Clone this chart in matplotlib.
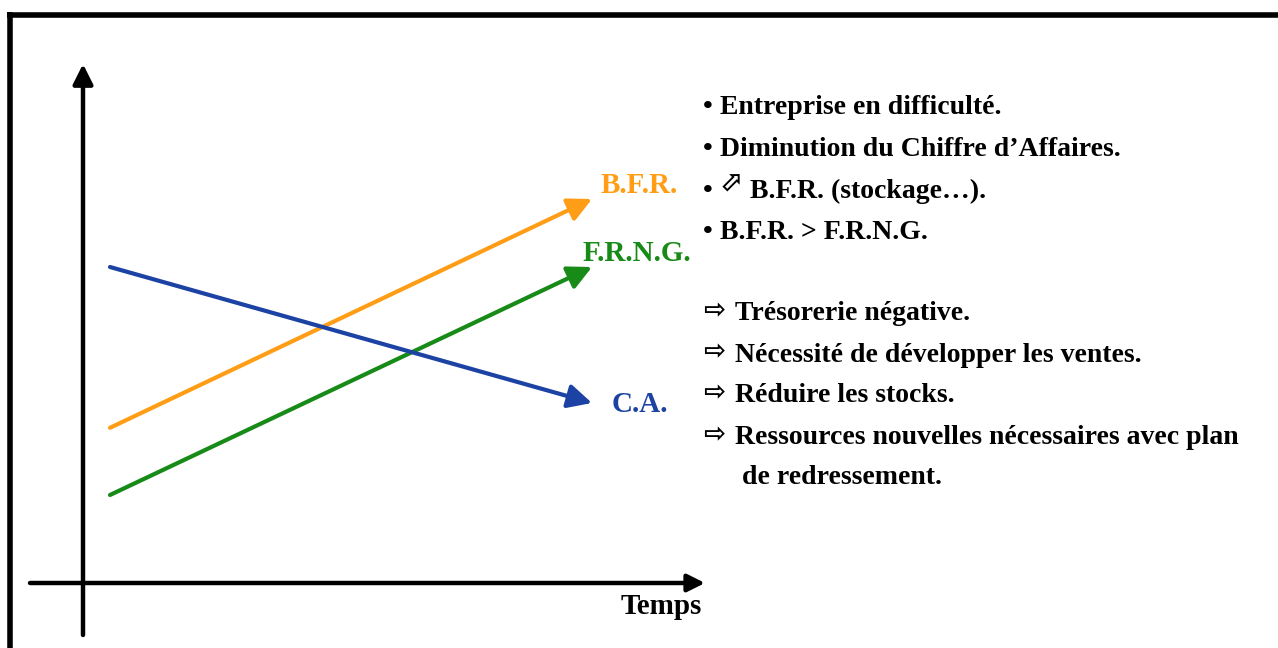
import matplotlib
matplotlib.use("Agg")
import matplotlib.pyplot as plt
from matplotlib.lines import Line2D

# ---- data ----
time = [0, 10]
bfr = [3.88, 9.6]
frng = [2.2, 7.9]
ca = [7.9, 4.5]
series_labels = ["B.F.R.", "F.R.N.G.", "C.A."]
bullets = ["Entreprise en difficulté.",
           "Diminution du Chiffre d\u2019Affaires.",
           "B.F.R. (stockage\u2026).",
           "B.F.R. > F.R.N.G."]
consequences = ["Trésorerie négative.",
                "Nécessité de développer les ventes.",
                "Réduire les stocks.",
                "Ressources nouvelles nécessaires avec plan",
                "de redressement."]
x_label = "Temps"

W, H = 1278, 648
fig = plt.figure(figsize=(W / 100, H / 100), dpi=100)
ax = fig.add_axes([0, 0, 1, 1])
PX_X, PX_Y = 48.2, 40.0          # pixels per data unit
X0, Y0 = 110, 583               # pixel position of data origin
ax.set_xlim(-X0 / PX_X, (W - X0) / PX_X)
ax.set_ylim(-(H - Y0) / PX_Y, Y0 / PX_Y)
ax.axis("off")

def fx(px):
    return px / W

def fy(py):
    return 1 - py / H

# frame (top and left)
fig.add_artist(Line2D([fx(7), 1.0], [fy(14.5), fy(14.5)], color="black", lw=4, solid_capstyle="butt"))
fig.add_artist(Line2D([fx(9.5), fx(9.5)], [fy(12), 0.0], color="black", lw=4, solid_capstyle="butt"))

# axes arrows
yaxis_x = (83 - X0) / PX_X
ax.annotate("", xy=(yaxis_x, (Y0 - 64) / PX_Y), xytext=(yaxis_x, (Y0 - 635) / PX_Y),
            arrowprops=dict(arrowstyle="-|>", lw=3.2, color="black", mutation_scale=30,
                            shrinkA=0, shrinkB=0))
ax.annotate("", xy=((705 - X0) / PX_X, 0), xytext=((30 - X0) / PX_X, 0),
            arrowprops=dict(arrowstyle="-|>", lw=3.2, color="black", mutation_scale=26,
                            shrinkA=0, shrinkB=0))

colors = ["#FF9E16", "#178A17", "#1C43A4"]
for vals, col in zip([bfr, frng, ca], colors):
    ax.annotate("", xy=(time[1], vals[1]), xytext=(time[0], vals[0]),
                arrowprops=dict(arrowstyle="-|>", lw=3, color=col, mutation_scale=36,
                                shrinkA=0, shrinkB=0))

serif = ["Liberation Serif", "DejaVu Serif"]
fs = 20
fsl = 21

label_pos = [(601, 186), (583, 253), (612, 404)]
for lab, (px, py), col in zip(series_labels, label_pos, colors):
    fig.text(fx(px), fy(py), lab, color=col, fontsize=fsl, fontweight="bold",
             family=serif, ha="left", va="center")

fig.text(fx(702), fy(606), x_label, color="black", fontsize=fsl, fontweight="bold",
         family=serif, ha="right", va="center")

# bullet list
by = [107, 149, 191, 233]
for i, (t, py) in enumerate(zip(bullets, by)):
    fig.text(fx(703), fy(py), "\u2022", fontsize=20, fontweight="bold", family=serif,
             ha="left", va="center")
    if i == 2:
        fig.text(fx(719), fy(py - 7), "\u2B00", fontsize=20, fontweight="bold",
                 family=["DejaVu Sans"], ha="left", va="center")
        fig.text(fx(750), fy(py), t, fontsize=fs, fontweight="bold", family=serif,
                 ha="left", va="center")
    else:
        fig.text(fx(720), fy(py), t, fontsize=fs, fontweight="bold", family=serif,
                 ha="left", va="center")

cy = [314, 355, 396, 438, 478]
for i, (t, py) in enumerate(zip(consequences, cy)):
    if i < 4:
        fig.text(fx(703), fy(py - 3), "\u21E8", fontsize=19, fontweight="bold",
                 family=["DejaVu Sans"], ha="left", va="center")
        fig.text(fx(735), fy(py), t, fontsize=fs, fontweight="bold", family=serif,
                 ha="left", va="center")
    else:
        fig.text(fx(742), fy(py), t, fontsize=fs, fontweight="bold", family=serif,
                 ha="left", va="center")

fig.savefig("out.png", dpi=100, facecolor="white")
